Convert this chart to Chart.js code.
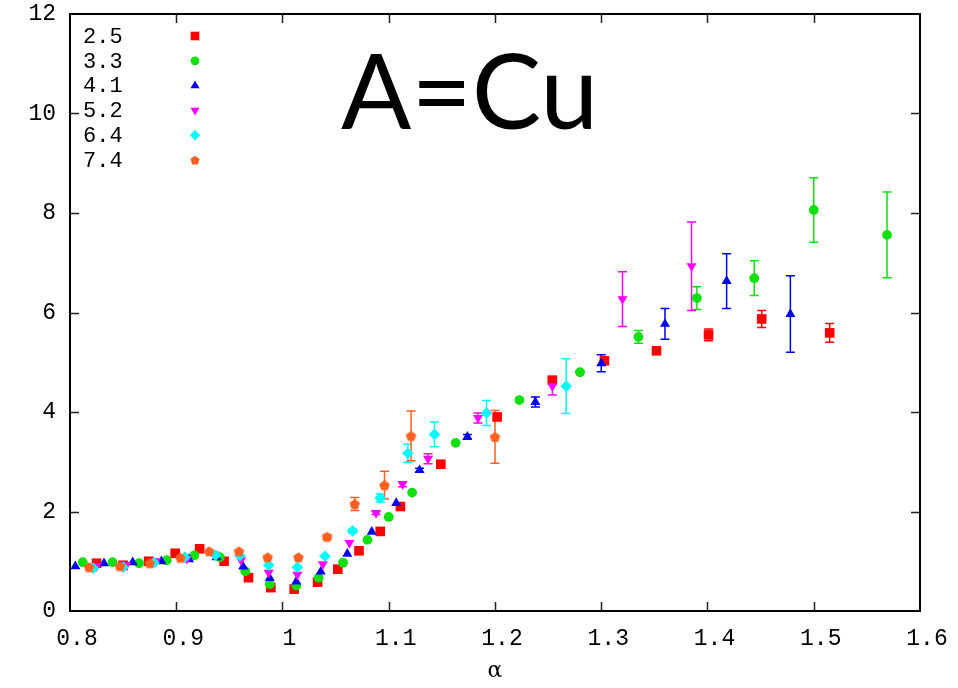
<!DOCTYPE html>
<html><head><meta charset="utf-8">
<script src="https://cdn.jsdelivr.net/npm/chart.js@4"></script>
<style>html,body{margin:0;padding:0;background:#fff}canvas{display:block}</style>
</head><body>
<canvas id="c" width="958" height="688"></canvas>
<script>
// ---- data ----
const seriesLabels = ['2.5', '3.3', '4.1', '5.2', '6.4', '7.4'];
const seriesColors = ['#ff0000', '#10e010', '#0000f0', '#ff00ff', '#00ffff', '#ff6020'];
const xTickValues = [0.8, 0.9, 1.0, 1.1, 1.2, 1.3, 1.4, 1.5, 1.6];
const xTickLabels = ['0.8', '0.9', '1', '1.1', '1.2', '1.3', '1.4', '1.5', '1.6'];
const yTickValues = [0, 2, 4, 6, 8, 10, 12];
const yTickLabels = ['0', '2', '4', '6', '8', '10', '12'];
const titleText = 'A=Cu';
const xTitle = 'α';

const alpha25 = [0.825, 0.850, 0.874, 0.899, 0.922, 0.945, 0.968, 0.989, 1.011, 1.033, 1.052, 1.072, 1.092, 1.111, 1.149, 1.202, 1.254, 1.303, 1.352, 1.401, 1.451, 1.515];
const val25   = [0.96, 0.92, 1.00, 1.16, 1.25, 1.00, 0.67, 0.47, 0.44, 0.58, 0.84, 1.21, 1.60, 2.10, 2.95, 3.90, 4.64, 5.03, 5.23, 5.55, 5.87, 5.59];
const err25   = [0, 0, 0, 0, 0, 0, 0, 0, 0, 0, 0, 0, 0, 0, 0, 0, 0.04, 0.05, 0.03, 0.12, 0.17, 0.19];

const alpha33 = [0.812, 0.840, 0.865, 0.891, 0.917, 0.941, 0.965, 0.988, 1.013, 1.034, 1.057, 1.080, 1.100, 1.122, 1.163, 1.223, 1.280, 1.335, 1.390, 1.444, 1.500, 1.569];
const val33   = [0.98, 0.98, 0.96, 1.02, 1.12, 1.08, 0.80, 0.54, 0.51, 0.67, 0.97, 1.43, 1.89, 2.38, 3.38, 4.24, 4.80, 5.51, 6.29, 6.69, 8.06, 7.56];
const err33   = [0, 0, 0, 0, 0, 0, 0, 0, 0, 0, 0, 0, 0, 0, 0, 0, 0, 0.13, 0.23, 0.35, 0.65, 0.86];

const alpha41 = [0.805, 0.832, 0.859, 0.886, 0.912, 0.938, 0.963, 0.988, 1.013, 1.036, 1.061, 1.084, 1.107, 1.129, 1.174, 1.238, 1.300, 1.360, 1.418, 1.478];
const val41   = [0.90, 0.96, 0.98, 1.00, 1.04, 1.08, 0.89, 0.66, 0.59, 0.79, 1.15, 1.59, 2.17, 2.83, 3.50, 4.20, 4.98, 5.77, 6.63, 5.97];
const err41   = [0, 0, 0, 0, 0, 0, 0, 0, 0, 0, 0, 0, 0, 0.04, 0.05, 0.10, 0.17, 0.31, 0.55, 0.77];

const alpha52 = [0.825, 0.853, 0.881, 0.910, 0.936, 0.961, 0.987, 1.014, 1.038, 1.063, 1.088, 1.113, 1.137, 1.184, 1.254, 1.320, 1.385];
const val52   = [0.90, 0.92, 1.00, 1.05, 1.14, 1.02, 0.77, 0.73, 0.94, 1.37, 1.97, 2.55, 3.06, 3.88, 4.52, 6.27, 6.93];
const err52   = [0, 0, 0, 0, 0, 0, 0, 0, 0, 0, 0.03, 0.05, 0.10, 0.10, 0.18, 0.55, 0.89];

const alpha64 = [0.822, 0.850, 0.879, 0.908, 0.937, 0.960, 0.987, 1.014, 1.040, 1.066, 1.092, 1.118, 1.143, 1.192, 1.267];
const val64   = [0.86, 0.88, 0.97, 1.08, 1.12, 1.11, 0.92, 0.88, 1.10, 1.61, 2.27, 3.17, 3.55, 3.98, 4.52];
const err64   = [0, 0, 0, 0, 0, 0, 0, 0, 0, 0.04, 0.08, 0.18, 0.25, 0.25, 0.55];

const alpha74 = [0.818, 0.847, 0.875, 0.904, 0.931, 0.959, 0.986, 1.015, 1.042, 1.068, 1.096, 1.121, 1.200];
const val74   = [0.88, 0.90, 0.96, 1.07, 1.20, 1.20, 1.08, 1.08, 1.49, 2.15, 2.53, 3.52, 3.50];
const err74   = [0, 0, 0, 0, 0, 0, 0, 0, 0.05, 0.13, 0.28, 0.50, 0.53];

// ---- helpers ----
function pentagon(r, color) {
  const s = Math.ceil(2 * r + 2);
  const cv = document.createElement('canvas');
  cv.width = s; cv.height = s;
  const g = cv.getContext('2d');
  g.fillStyle = color;
  g.beginPath();
  for (let i = 0; i < 5; i++) {
    const a = -Math.PI / 2 + i * 2 * Math.PI / 5;
    g.lineTo(s / 2 + r * Math.cos(a), s / 2 + r * Math.sin(a) + 0.5);
  }
  g.closePath();
  g.fill();
  return cv;
}
function toPts(xs, ys) { return xs.map((x, i) => ({ x: x, y: ys[i] })); }

const styles = [
  { pointStyle: 'rect', radius: 6.8, rotation: 0 },
  { pointStyle: 'circle', radius: 4.9, rotation: 0 },
  { pointStyle: 'triangle', radius: 5.8, rotation: 0 },
  { pointStyle: 'triangle', radius: 5.8, rotation: 180 },
  { pointStyle: 'rectRot', radius: 5.8, rotation: 0 },
  { pointStyle: pentagon(5.5, seriesColors[5]), radius: 5.5, rotation: 0 }
];
const legendPentagon = pentagon(4.8, seriesColors[5]);
const xs = [alpha25, alpha33, alpha41, alpha52, alpha64, alpha74];
const ys = [val25, val33, val41, val52, val64, val74];
const es = [err25, err33, err41, err52, err64, err74];

const datasets = seriesLabels.map((lab, i) => ({
  label: lab,
  data: toPts(xs[i], ys[i]),
  errors: es[i],
  showLine: false,
  pointStyle: styles[i].pointStyle,
  pointRadius: styles[i].radius,
  pointRotation: styles[i].rotation,
  pointBackgroundColor: seriesColors[i],
  pointBorderColor: seriesColors[i],
  pointBorderWidth: 0,
  borderColor: seriesColors[i],
  backgroundColor: seriesColors[i],
  order: 5 - i
}));

// error bars
const errorBars = {
  id: 'errorBars',
  beforeDatasetsDraw(chart) {
    const ctx = chart.ctx, xS = chart.scales.x, yS = chart.scales.y;
    ctx.save();
    ctx.lineWidth = 1.5;
    chart.data.datasets.forEach((ds) => {
      ctx.strokeStyle = ds.borderColor;
      ds.data.forEach((p, j) => {
        const e = ds.errors[j];
        if (!e) return;
        const px = xS.getPixelForValue(p.x);
        const y1 = yS.getPixelForValue(p.y - e), y2 = yS.getPixelForValue(p.y + e);
        ctx.beginPath();
        ctx.moveTo(px, y1); ctx.lineTo(px, y2);
        ctx.moveTo(px - 4.5, y1); ctx.lineTo(px + 4.5, y1);
        ctx.moveTo(px - 4.5, y2); ctx.lineTo(px + 4.5, y2);
        ctx.stroke();
      });
    });
    ctx.restore();
  }
};

// frame with inward ticks
const frame = {
  id: 'frame',
  afterDatasetsDraw(chart) {
    const ctx = chart.ctx, a = chart.chartArea, xS = chart.scales.x, yS = chart.scales.y;
    ctx.save();
    ctx.strokeStyle = '#222';
    ctx.lineWidth = 1.5;
    ctx.beginPath();
    const tl = 9;
    xTickValues.forEach((v, i) => {
      if (i === 0 || i === xTickValues.length - 1) return;
      const px = Math.round(xS.getPixelForValue(v)) + 0.5;
      ctx.moveTo(px, a.bottom); ctx.lineTo(px, a.bottom - tl);
      ctx.moveTo(px, a.top); ctx.lineTo(px, a.top + tl);
    });
    yTickValues.forEach((v, i) => {
      if (i === 0 || i === yTickValues.length - 1) return;
      const py = Math.round(yS.getPixelForValue(v)) + 0.5;
      ctx.moveTo(a.left, py); ctx.lineTo(a.left + tl, py);
      ctx.moveTo(a.right, py); ctx.lineTo(a.right - tl, py);
    });
    ctx.stroke();
    ctx.strokeStyle = '#000';
    ctx.lineWidth = 2;
    ctx.strokeRect(a.left, a.top, a.right - a.left, a.bottom - a.top);
    ctx.restore();
  }
};

// key and label
const keyAndLabel = {
  id: 'keyAndLabel',
  afterDraw(chart) {
    const ctx = chart.ctx;
    ctx.save();
    ctx.fillStyle = '#000';
    ctx.font = '22px "Liberation Mono", monospace';
    ctx.textBaseline = 'middle';
    ctx.textAlign = 'left';
    chart.data.datasets.forEach((ds, i) => {
      const y = 36 + i * 24.8;
      ctx.fillStyle = '#000';
      ctx.fillText(ds.label, 83, y + 1);
      ctx.fillStyle = ds.pointBackgroundColor;
      ctx.strokeStyle = ds.pointBackgroundColor;
      ctx.lineWidth = 0;
      const st = (typeof ds.pointStyle === 'string') ? ds.pointStyle : legendPentagon;
      const r = ds.pointRadius * 0.9;
      Chart.helpers.drawPoint(ctx, { pointStyle: st, rotation: ds.pointRotation, radius: r, borderWidth: 0 }, 195, y);
    });
    ctx.fillStyle = '#000';
    ctx.font = '104px Lato, "Open Sans", sans-serif';
    ctx.textBaseline = 'alphabetic';
    ctx.fillText(titleText, 341, 129);
    ctx.restore();
  }
};

new Chart(document.getElementById('c'), {
  type: 'scatter',
  data: { datasets: datasets },
  plugins: [errorBars, frame, keyAndLabel],
  options: {
    responsive: false,
    devicePixelRatio: 1,
    animation: false,
    events: [],
    layout: { padding: { top: 14, right: 38, left: 0, bottom: 0 } },
    plugins: { legend: { display: false }, tooltip: { enabled: false } },
    scales: {
      x: {
        type: 'linear', min: 0.8, max: 1.6,
        afterBuildTicks(s) { s.ticks = xTickValues.map(v => ({ value: v })); },
        afterFit(s) { s.height = 77; s.paddingLeft = 0; s.paddingRight = 0; },
        grid: { display: false, drawTicks: false },
        border: { display: false },
        ticks: {
          callback: (v, i) => xTickLabels[i],
          font: { family: '"Liberation Mono", monospace', size: 23 },
          color: '#000', padding: 14, labelOffset: 7, maxRotation: 0, autoSkip: false
        },
        title: { display: true, text: xTitle, font: { family: '"DejaVu Serif", serif', size: 22 }, color: '#000', padding: { top: 0, bottom: 4 } }
      },
      y: {
        type: 'linear', min: 0, max: 12,
        afterBuildTicks(s) { s.ticks = yTickValues.map(v => ({ value: v })); },
        afterFit(s) { s.width = 70; s.paddingTop = 0; s.paddingBottom = 0; },
        grid: { display: false, drawTicks: false },
        border: { display: false },
        ticks: {
          callback: (v, i) => yTickLabels[i],
          font: { family: '"Liberation Mono", monospace', size: 23 },
          color: '#000', padding: 14, autoSkip: false
        }
      }
    }
  }
});
</script>
</body></html>
